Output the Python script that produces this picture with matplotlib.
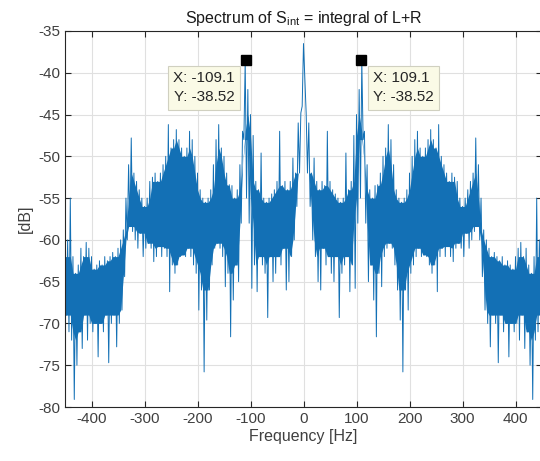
import numpy as np
import matplotlib
matplotlib.use("Agg")
import matplotlib.pyplot as plt

plt.rcParams['font.family'] = ['Liberation Sans', 'DejaVu Sans']
plt.rcParams['axes.unicode_minus'] = False

# spectrum envelope, positive half (spectrum is symmetric)
freq = np.arange(0, 455, 5)
hi = [-36.5, -44.8, -46.0, -52.0, -50.2, -53.0, -54.0, -53.0, -53.5, -47.0,
      -53.0, -54.0, -54.5, -55.0, -55.5, -55.0, -49.6, -54.0, -53.0, -47.5,
      -45.0, -42.0, -38.52, -47.0, -51.0, -54.0, -55.0, -53.5, -53.4, -52.0,
      -50.0, -49.0, -46.2, -48.0, -51.0, -54.0, -55.0, -55.5, -55.0, -54.0,
      -52.0, -50.0, -48.0, -47.0, -49.0, -50.0, -49.0, -48.0, -46.8, -48.0,
      -49.0, -46.2, -50.0, -51.0, -52.0, -53.0, -52.0, -52.5, -53.0, -55.0,
      -56.0, -55.0, -54.0, -53.0, -52.0, -47.8, -51.0, -55.0, -58.8, -60.0,
      -61.0, -62.0, -61.5, -62.0, -62.5, -62.0, -63.0, -62.5, -63.0, -63.5,
      -62.0, -61.0, -60.3, -62.0, -61.0, -63.0, -64.0, -62.0, -55.0, -60.0,
      -62.0]
lo = [-44.0, -52.0, -56.0, -60.0, -62.0, -65.0, -66.0, -61.0, -63.0, -62.0,
      -64.0, -65.0, -62.0, -69.3, -64.0, -63.0, -62.0, -66.2, -63.0, -65.8,
      -58.0, -55.0, -48.0, -58.0, -65.0, -63.0, -67.2, -71.6, -64.0, -65.6,
      -62.0, -61.0, -60.4, -61.0, -63.0, -66.0, -69.6, -75.8, -66.0, -68.4,
      -64.0, -63.0, -62.0, -61.0, -62.0, -61.8, -62.0, -63.0, -64.0, -63.0,
      -66.2, -62.0, -61.0, -62.0, -60.8, -62.0, -62.6, -61.0, -60.4, -61.0,
      -62.0, -59.2, -61.0, -60.0, -59.0, -58.4, -60.0, -64.4, -68.4, -70.0,
      -72.8, -69.0, -70.0, -74.7, -69.0, -71.0, -70.0, -74.0, -70.0, -71.0,
      -70.0, -72.0, -69.0, -73.0, -71.0, -75.0, -79.1, -72.0, -71.0, -69.0,
      -70.0]

cursor_x = [-109.1, 109.1]
cursor_y = [-38.52, -38.52]

hi = np.array(hi)
lo = np.array(lo)

# thin trace: alternate top and bottom of each bin, mirrored to negative freqs
pos_f = np.column_stack([freq, freq + 2.5]).ravel()
pos_v = np.column_stack([hi, lo]).ravel()
f_all = np.concatenate([-pos_f[::-1], pos_f[2:]])
v_all = np.concatenate([pos_v[::-1], pos_v[2:]])

# solid core where neighbouring bins overlap (isolated spikes stay thin)
band_f = np.concatenate([-freq[::-1], freq[1:]])
b_hi = np.concatenate([hi[::-1], hi[1:]])
b_lo = np.concatenate([lo[::-1], lo[1:]])
core_hi = np.minimum(b_hi, np.minimum(np.roll(b_hi, 1), np.roll(b_hi, -1)))
core_lo = np.maximum(b_lo, np.maximum(np.roll(b_lo, 1), np.roll(b_lo, -1)))
core_lo = np.minimum(core_lo, core_hi)

blue = '#1370B5'
fig = plt.figure(figsize=(5.4, 4.61), dpi=100)
ax = fig.add_axes([65/540, 54/461, 477/540, 376/461])

ax.fill_between(band_f, core_lo, core_hi, color=blue, lw=0)
ax.plot(f_all, v_all, color=blue, lw=0.7)

ax.set_xlim(-450, 450)
ax.set_ylim(-80, -35)
ax.set_xticks(np.arange(-400, 401, 100))
ax.set_yticks(np.arange(-80, -34, 5))
ax.grid(True, color='#E0E0E0', lw=0.8)
ax.set_axisbelow(True)
ax.tick_params(direction='in', length=4, colors='#262626', labelsize=11,
               top=True, right=True, labelcolor='#404040')
for s in ax.spines.values():
    s.set_color('#262626')
    s.set_linewidth(0.8)

ax.set_xlabel('Frequency [Hz]', fontsize=11.5, color='#404040', labelpad=2)
ax.set_ylabel('[dB]', fontsize=11.5, color='#404040', labelpad=4)
ax.set_title(r'Spectrum of S$_\mathregular{int}$ = integral of L+R',
             fontsize=11.5, color='#1a1a1a', pad=6)

ax.plot(cursor_x, cursor_y, 's', color='black', ms=6.5, clip_on=False)
box = dict(boxstyle='square,pad=0.35', fc='#FAFAE6', ec='#D0D0C0', lw=0.8)
for cx, cy in zip(cursor_x, cursor_y):
    txt = 'X: %.1f\nY: %.2f' % (cx, cy)
    if cx < 0:
        ax.annotate(txt, (cx, cy), xytext=(-11, -11), textcoords='offset pixels',
                    ha='right', va='top', fontsize=11, color='#262626',
                    bbox=box, linespacing=1.45)
    else:
        ax.annotate(txt, (cx, cy), xytext=(12, -11), textcoords='offset pixels',
                    ha='left', va='top', fontsize=11, color='#262626',
                    bbox=box, linespacing=1.45)

fig.savefig('out.png', dpi=100)
